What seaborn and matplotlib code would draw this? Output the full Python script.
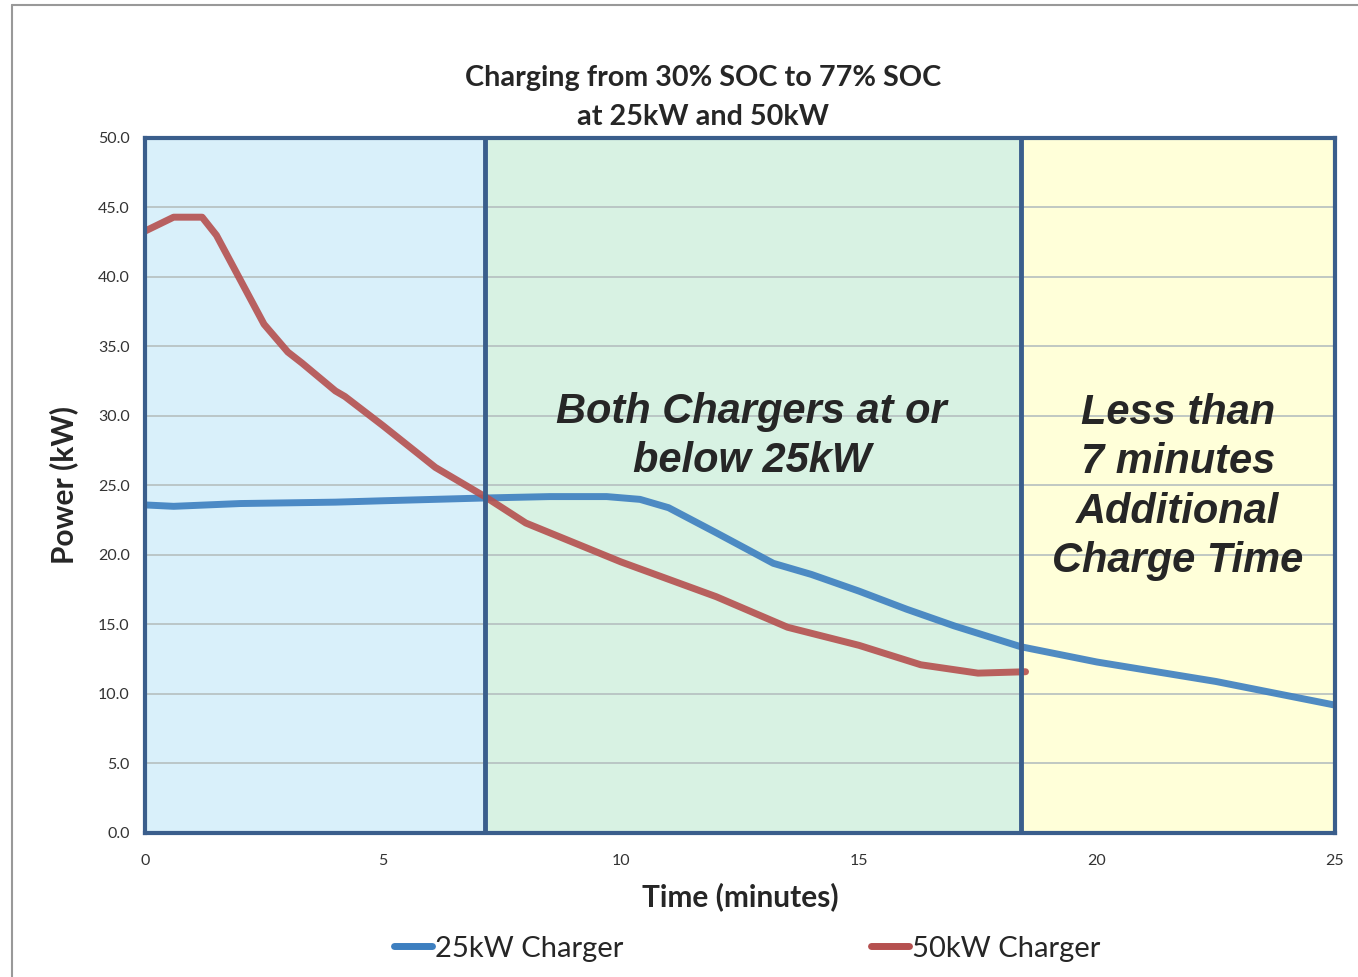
import pandas as pd
import matplotlib
matplotlib.use("Agg")
import matplotlib.pyplot as plt
from matplotlib.lines import Line2D
import seaborn as sns

# 25kW charger curve (time in minutes, power in kW)
time_25 = [0.0, 0.6, 2.0, 4.0, 5.0, 7.14, 8.5, 9.7, 10.4, 11.0, 12.0, 13.2,
           14.0, 15.0, 16.0, 17.0, 18.4, 20.0, 22.5, 25.0]
power_25 = [23.6, 23.5, 23.7, 23.8, 23.9, 24.1, 24.2, 24.2, 24.0, 23.4, 21.6, 19.4,
            18.6, 17.4, 16.1, 14.9, 13.4, 12.3, 10.9, 9.2]

# 50kW charger curve
time_50 = [0.0, 0.6, 1.2, 1.5, 2.0, 2.5, 3.0, 3.3, 4.0, 4.2, 5.0, 6.1, 7.14,
           8.0, 10.0, 12.0, 13.5, 15.0, 16.3, 17.5, 18.5]
power_50 = [43.3, 44.3, 44.3, 43.0, 39.8, 36.6, 34.6, 33.8, 31.8, 31.4, 29.3, 26.3, 24.2,
            22.3, 19.5, 17.0, 14.8, 13.5, 12.1, 11.5, 11.6]

series_names = ["25kW Charger", "50kW Charger"]
region_edges = [0, 7.14, 18.4, 25]
region_colors = ["#d9f0fa", "#d8f2e3", "#ffffd9"]
y_ticks = [0, 5, 10, 15, 20, 25, 30, 35, 40, 45, 50]
x_ticks = [0, 5, 10, 15, 20, 25]

df = pd.concat([
    pd.DataFrame({"Time": time_25, "Power": power_25, "Charger": series_names[0]}),
    pd.DataFrame({"Time": time_50, "Power": power_50, "Charger": series_names[1]}),
])

sns.set_style("white")
plt.rcParams["font.family"] = ["Lato", "DejaVu Sans"]

fig = plt.figure(figsize=(13.58, 9.77), dpi=100)
ax = fig.add_axes([0.1068, 0.1474, 0.8762, 0.7114])

edge_blue = "#3a5e8c"

# shaded regions
for (x0, x1), c in zip(zip(region_edges[:-1], region_edges[1:]), region_colors):
    ax.axvspan(x0, x1, color=c, zorder=0, lw=0)

ax.grid(axis="y", color="#b5bfbf", lw=1.2, zorder=1)
ax.set_axisbelow(True)

palette = {series_names[0]: "#3d7fc0", series_names[1]: "#b5504f"}
sns.lineplot(data=df, x="Time", y="Power", hue="Charger", palette=palette,
             linewidth=5, alpha=0.9, ax=ax, legend=False, zorder=3,
             sort=False, estimator=None)

for x in region_edges[1:-1]:
    ax.axvline(x, color=edge_blue, lw=3.5, zorder=4)

for s in ax.spines.values():
    s.set_color(edge_blue)
    s.set_linewidth(3)
    s.set_zorder(5)

ax.set_xlim(0, 25)
ax.set_ylim(0, 50)
ax.set_xticks(x_ticks)
ax.set_yticks(y_ticks)
ax.set_yticklabels([f"{v:.1f}" for v in y_ticks])
ax.tick_params(axis="both", labelsize=11.5, colors="#333333", length=5,
               width=1, direction="out", pad=6)
ax.tick_params(axis="x", pad=10)

ax.set_xlabel("Time (minutes)", fontsize=21.5, fontweight="bold", labelpad=10)
ax.set_ylabel("Power (kW)", fontsize=21.5, fontweight="bold", labelpad=14)

fig.text(0.518, 0.900, "Charging from 30% SOC to 77% SOC\nat 25kW and 50kW",
         fontsize=20.7, fontweight="bold", ha="center", va="center",
         linespacing=1.6)

note_font = dict(fontsize=30, fontweight="bold", style="italic",
                 family="Liberation Sans", ha="center", va="center",
                 linespacing=1.3, zorder=6)
ax.text(12.75, 28.5, "Both Chargers at or\nbelow 25kW", **note_font)
ax.text(21.7, 24.9, "Less than\n7 minutes\nAdditional\nCharge Time", **note_font)

handles = [Line2D([], [], color=palette[n], lw=5, solid_capstyle="round")
           for n in series_names]
fig.legend(handles, series_names, loc="center", bbox_to_anchor=(0.55, 0.029),
           ncol=2, frameon=False, fontsize=21, handlelength=1.3,
           handletextpad=0.1, columnspacing=8.5)

# outer chart border
fig.add_artist(Line2D([0.0088, 0.0088], [0.0, 0.995], color="#999999", lw=1.5))
fig.add_artist(Line2D([0.0088, 1.0], [0.995, 0.995], color="#999999", lw=1.5))

fig.savefig("out.png", dpi=100)
